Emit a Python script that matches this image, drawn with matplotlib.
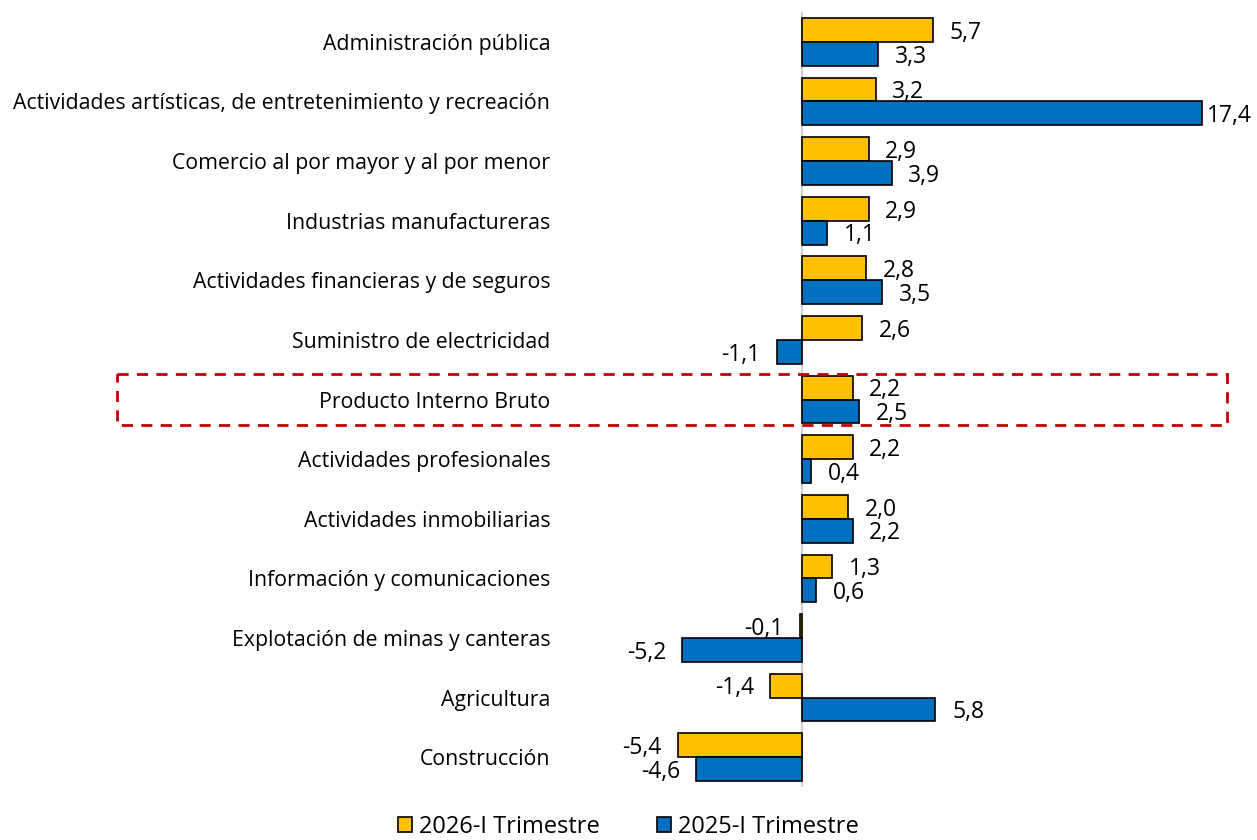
import matplotlib
matplotlib.use("Agg")
import matplotlib.pyplot as plt
from matplotlib.patches import Patch, Rectangle
from matplotlib.transforms import blended_transform_factory

plt.rcParams['font.family'] = ['Open Sans', 'DejaVu Sans']

categories = [
    "Administración pública",
    "Actividades artísticas, de entretenimiento y recreación",
    "Comercio al por mayor y al por menor",
    "Industrias manufactureras",
    "Actividades financieras y de seguros",
    "Suministro de electricidad",
    "Producto Interno Bruto",
    "Actividades profesionales",
    "Actividades inmobiliarias",
    "Información y comunicaciones",
    "Explotación de minas y canteras",
    "Agricultura",
    "Construcción",
]
serie_2026 = [5.7, 3.2, 2.9, 2.9, 2.8, 2.6, 2.2, 2.2, 2.0, 1.3, -0.1, -1.4, -5.4]
serie_2025 = [3.3, 17.4, 3.9, 1.1, 3.5, -1.1, 2.5, 0.4, 2.2, 0.6, -5.2, 5.8, -4.6]
series_names = ["2026-I Trimestre", "2025-I Trimestre"]
highlight = "Producto Interno Bruto"

W, H = 1257, 840
fig = plt.figure(figsize=(W / 100, H / 100), dpi=100)
ax_left, ax_right = 560, 1230
ax_top, ax_bottom = 12, 787
ax = fig.add_axes([ax_left / W, 1 - ax_bottom / H, (ax_right - ax_left) / W, (ax_bottom - ax_top) / H])

zero_px, px_per_unit = 802, 23.0
xmin = (ax_left - zero_px) / px_per_unit
xmax = (ax_right - zero_px) / px_per_unit
ax.set_xlim(xmin, xmax)
ax.set_ylim(12.5, -0.5)

c_y, c_b = "#FFC000", "#0070C0"
h = 0.4
ys = list(range(len(categories)))
ax.axvline(0, color="#d0d0d0", lw=1.5, zorder=1)
ax.barh([y - h / 2 for y in ys], serie_2026, height=h, color=c_y, edgecolor="black", lw=1.2, zorder=2)
ax.barh([y + h / 2 for y in ys], serie_2025, height=h, color=c_b, edgecolor="black", lw=1.2, zorder=2)

def fmt(v):
    return f"{v:.1f}".replace(".", ",")

for vals, off in ((serie_2026, -h / 2), (serie_2025, h / 2)):
    for y, v in zip(ys, vals):
        if v >= 0:
            dx = 12 if v < xmax - 2 else 3.5
        else:
            dx = -11.5
        ax.annotate(fmt(v), (v, y + off), xytext=(dx, -2),
                    textcoords="offset points", ha="left" if v >= 0 else "right",
                    va="center", fontsize=16.5, color="black", zorder=3, annotation_clip=False)

ax.set_yticks(ys)
ax.set_yticklabels(categories, fontsize=15.3)
ax.tick_params(axis="y", length=0, pad=7)
ax.set_xticks([])
for s in ax.spines.values():
    s.set_visible(False)

# highlight box
i = categories.index(highlight)
tr = blended_transform_factory(fig.transFigure, ax.transData)
rect = Rectangle((117 / W, i - 0.43), (1227 - 117) / W, 0.86, transform=tr, fill=False,
                 edgecolor="#C00000", lw=2, ls=(0, (4, 3)), clip_on=False, zorder=4)
fig.add_artist(rect)

handles = [Patch(facecolor=c_y, edgecolor="black", lw=1.2), Patch(facecolor=c_b, edgecolor="black", lw=1.2)]
fig.legend(handles, series_names, loc="center", bbox_to_anchor=(0.5, 1 - 827 / H), ncol=2,
           frameon=False, fontsize=17, handlelength=0.6, handleheight=0.6,
           handletextpad=0.3, columnspacing=2.4, borderaxespad=0)

fig.savefig("out.png", dpi=100)
